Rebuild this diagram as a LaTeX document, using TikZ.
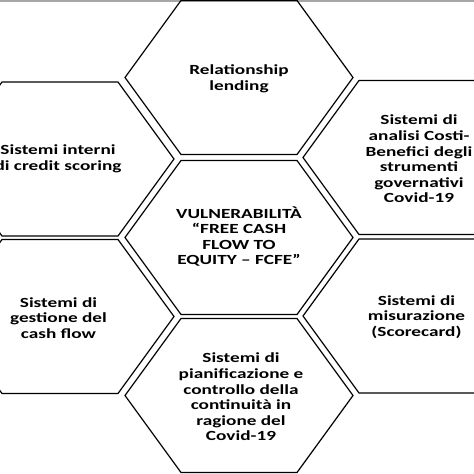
\documentclass[tikz,border=0pt]{standalone}
\usepackage{fontspec}
\setmainfont{Carlito}[FakeStretch=1.38]
\begin{document}
\begin{tikzpicture}[x=1bp,y=-1bp]
\tikzset{
  hexedge/.style={draw=black,line width=1.2bp,line join=miter},
  hextext/.style={align=center,font=\bfseries\fontsize{14}{15.6}\selectfont,inner sep=0pt,text=black}
}
\newcommand\hexcell[2]{\draw[hexedge,shift={(#1,#2)}] (-114,0) -- (-58,-77) -- (58,-77) -- (114,0) -- (58,77) -- (-58,77) -- cycle;}
\useasboundingbox (0,0) rectangle (474,474);
\clip (0,0) rectangle (474,474);
\fill[white] (0,0) rectangle (474,474);
\draw[black!35,line width=2.5bp] (0,1) -- (474,1);
\hexcell{239}{77.5}
\hexcell{239}{237.5}
\hexcell{239}{395.5}
\hexcell{60}{159}
\hexcell{60}{316.5}
\hexcell{417}{157.5}
\hexcell{417}{316}
\node[hextext] (t) at (239,79) {Relationship\\lending};
\node[hextext] (ul) at (58,159) {Sistemi interni\\di credit scoring};
\node[hextext] (ur) at (419,159) {Sistemi di\\analisi Costi-\\Benefici degli\\strumenti\\governativi\\Covid-19};
\node[hextext] (c) at (239,236.5) {VULNERABILITÀ\\“FREE CASH\\FLOW TO\\EQUITY – FCFE”};
\node[hextext] (ll) at (58.5,318) {Sistemi di\\gestione del\\cash flow};
\node[hextext] (lr) at (416.5,317) {Sistemi di\\misurazione\\(Scorecard)};
\node[hextext] (b) at (241,397) {Sistemi di\\pianificazione e\\controllo della\\continuità in\\ragione del\\Covid-19};
\end{tikzpicture}
\end{document}
